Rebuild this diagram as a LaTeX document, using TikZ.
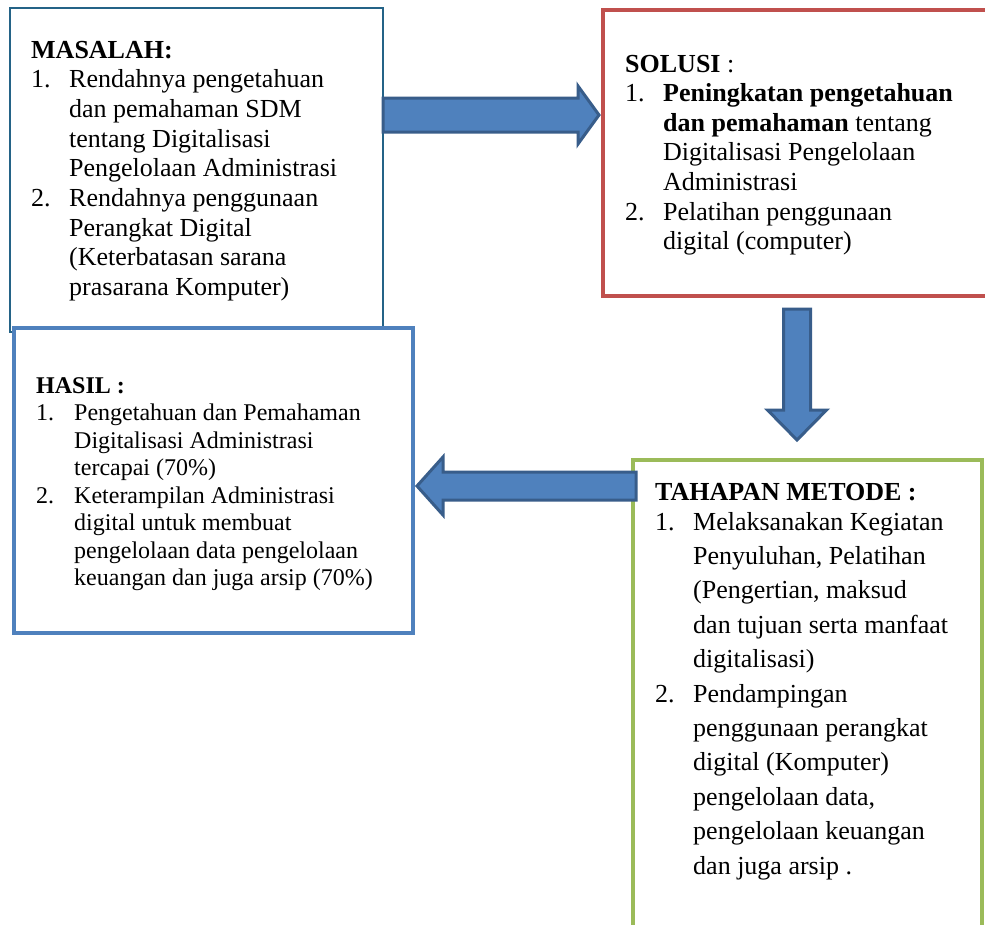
\documentclass[tikz,border=0pt]{standalone}
\usepackage{fontspec}
\setmainfont{Liberation Serif}
\usetikzlibrary{positioning}

\definecolor{boxteal}{RGB}{36,99,135}
\definecolor{boxred}{RGB}{192,80,77}
\definecolor{boxblue}{RGB}{79,129,189}
\definecolor{boxgreen}{RGB}{155,187,89}
\definecolor{arrowline}{RGB}{56,93,138}

\tikzset{
  box/.style={draw, fill=white, rectangle, outer sep=0pt, inner sep=0pt, anchor=north west},
  boxtext/.style={anchor=base west, inner sep=0pt, align=left},
  blockarrow/.style={draw=arrowline, fill=boxblue, line width=3pt, line join=miter},
}

\begin{document}
\begin{tikzpicture}[x=1pt, y=-1pt]
    \clip (0,0) rectangle (985,924);
    \fill[white] (0,0) rectangle (985,924);

    %% boxes
    \node[box, draw=boxteal, line width=2.5pt, minimum width=373pt, minimum height=324pt]
        (masalah) at (10,8) {};
    \node[box, draw=boxred, line width=4pt, minimum width=400pt, minimum height=286pt]
        (solusi) at (603,10) {};
    \node[box, draw=boxblue, line width=4pt, minimum width=399pt, minimum height=305pt]
        (hasil) at (14,328) {};
    \node[box, draw=boxgreen, line width=4pt, minimum width=349pt, minimum height=500pt]
        (tahapan) at (633,460) {};

    %% texts
    \node[boxtext] (masalahtxt) at ([shift={(21,50)}]masalah.north west) {%
      \fontsize{26}{29.7}\selectfont
      \begin{tabular}[t]{@{}p{38pt}@{}l@{}}
        \multicolumn{2}{@{}l@{}}{\textbf{MASALAH:}}\\
        1. & Rendahnya pengetahuan\\
           & dan pemahaman SDM\\
           & tentang Digitalisasi\\
           & Pengelolaan Administrasi\\
        2. & Rendahnya penggunaan\\
           & Perangkat Digital\\
           & (Keterbatasan sarana\\
           & prasarana Komputer)
      \end{tabular}};

    \node[boxtext] (solusitxt) at ([shift={(22,62)}]solusi.north west) {%
      \fontsize{26}{29.6}\selectfont
      \begin{tabular}[t]{@{}p{38pt}@{}l@{}}
        \multicolumn{2}{@{}l@{}}{\textbf{SOLUSI} :}\\
        1. & \textbf{Peningkatan pengetahuan}\\
           & \textbf{dan pemahaman} tentang\\
           & Digitalisasi Pengelolaan\\
           & Administrasi\\
        2. & Pelatihan penggunaan\\
           & digital (computer)
      \end{tabular}};

    \node[boxtext] (hasiltxt) at ([shift={(22,65)}]hasil.north west) {%
      \fontsize{24}{27.5}\selectfont
      \begin{tabular}[t]{@{}p{38pt}@{}l@{}}
        \multicolumn{2}{@{}l@{}}{\textbf{HASIL :}}\\
        1. & Pengetahuan dan Pemahaman\\
           & Digitalisasi Administrasi\\
           & tercapai (70\%)\\
        2. & Keterampilan Administrasi\\
           & digital untuk membuat\\
           & pengelolaan data pengelolaan\\
           & keuangan dan juga arsip (70\%)
      \end{tabular}};

    \node[boxtext] (tahapantxt) at ([shift={(22,40)}]tahapan.north west) {%
      \fontsize{26}{34.4}\selectfont
      \begin{tabular}[t]{@{}p{38pt}@{}l@{}}
        \multicolumn{2}{@{}l@{}}{\textbf{TAHAPAN METODE :}}\\[-4.4pt]
        1. & Melaksanakan Kegiatan\\
           & Penyuluhan, Pelatihan\\
           & (Pengertian, maksud\\
           & dan tujuan serta manfaat\\
           & digitalisasi)\\
        2. & Pendampingan\\
           & penggunaan perangkat\\
           & digital (Komputer)\\
           & pengelolaan data,\\
           & pengelolaan keuangan\\
           & dan juga arsip .
      \end{tabular}};

    %% block arrows
    \coordinate (toright) at ([shift={(0,107)}]masalah.north east);
    \coordinate (todown) at ([shift={(194,13)}]solusi.south west);
    \coordinate (toleft) at ([shift={(3,26)}]tahapan.north west);

    \draw[blockarrow] (toright) ++(0,-17) -- ++(195,0) -- ++(0,-12) -- ++(21,29)
        -- ++(-21,29) -- ++(0,-12) -- ++(-195,0) -- cycle;
    \draw[blockarrow] (todown) ++(-13.5,0) -- ++(0,101) -- ++(-16,0) -- ++(29.5,30)
        -- ++(29.5,-30) -- ++(-16,0) -- ++(0,-101) -- cycle;
    \draw[blockarrow] (toleft) ++(0,-14) -- ++(-193,0) -- ++(0,-15) -- ++(-26,29)
        -- ++(26,29) -- ++(0,-15) -- ++(193,0) -- cycle;

\end{tikzpicture}
\end{document}
